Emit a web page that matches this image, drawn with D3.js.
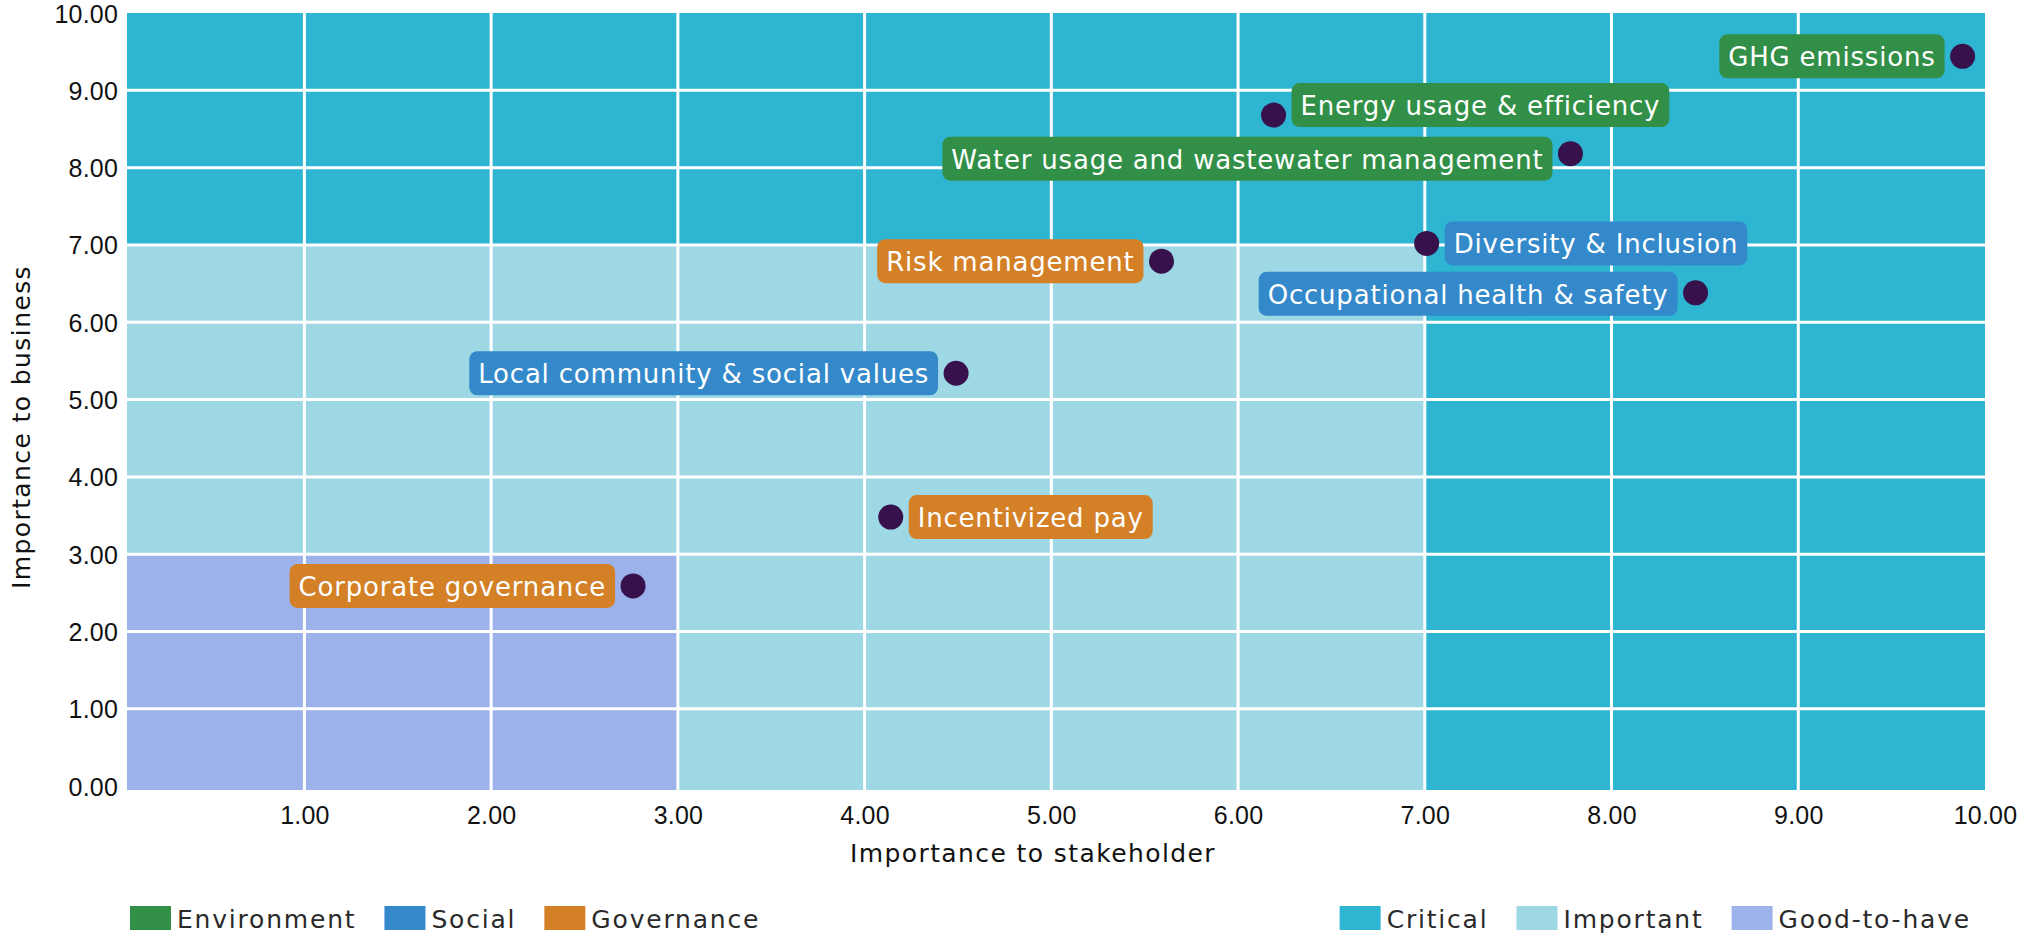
<!DOCTYPE html>
<html>
<head>
<meta charset="utf-8">
<script src="https://cdn.jsdelivr.net/npm/d3@7"></script>
<style>
  body { margin: 0; background: #fff; }
  svg { display: block; font-family: "DejaVu Sans", sans-serif; }
</style>
</head>
<body>
<svg id="chart" width="2036" height="934"></svg>
<script>
// topics on the materiality matrix
var topics = [
  "GHG emissions",
  "Energy usage & efficiency",
  "Water usage and wastewater management",
  "Diversity & Inclusion",
  "Risk management",
  "Occupational health & safety",
  "Local community & social values",
  "Incentivized pay",
  "Corporate governance"
];
var stakeholder = [9.88, 6.19, 7.78, 7.01, 5.59, 8.45, 4.49, 4.14, 2.76];
var business    = [9.44, 8.68, 8.18, 7.02, 6.79, 6.38, 5.34, 3.48, 2.59];
var pillar = ["Environment", "Environment", "Environment", "Social", "Governance",
              "Social", "Social", "Governance", "Governance"];

var pillars = ["Environment", "Social", "Governance"];
var zones = ["Critical", "Important", "Good-to-have"];
var tickValues = [1, 2, 3, 4, 5, 6, 7, 8, 9, 10];
var yTickValues = [0, 1, 2, 3, 4, 5, 6, 7, 8, 9, 10];

// label placement (which side of the dot, small vertical nudges)
var labelSide = ["left", "right", "left", "right", "left", "left", "left", "right", "left"];
var labelNudge = [0, -10, 5, 0, 0, 1, 0, 0, 0];

var pillarColor = d3.scaleOrdinal().domain(pillars).range(["#328f47", "#3489ca", "#d38027"]);
var zoneColor = d3.scaleOrdinal().domain(zones).range(["#2db5d1", "#9ed8e5", "#9db1ea"]);

function init() {
  var svg = d3.select("#chart");
  var left = 127, right = 1985, top = 13, bottom = 790;

  var x = d3.scaleLinear().domain([0.05, 10]).range([left, right]);
  var y = d3.scaleLinear().domain([-0.05, 10]).range([bottom, top]);

  // zones: critical everywhere first, then important, then good-to-have
  var zoneRects = [
    { zone: "Critical", x0: 0.05, x1: 10, y0: -0.05, y1: 10 },
    { zone: "Important", x0: 0.05, x1: 7, y0: -0.05, y1: 7 },
    { zone: "Good-to-have", x0: 0.05, x1: 3, y0: -0.05, y1: 3 }
  ];
  svg.append("g").selectAll("rect")
    .data(zoneRects)
    .join("rect")
    .attr("x", function (d) { return x(d.x0); })
    .attr("y", function (d) { return y(d.y1); })
    .attr("width", function (d) { return x(d.x1) - x(d.x0); })
    .attr("height", function (d) { return y(d.y0) - y(d.y1); })
    .attr("fill", function (d) { return zoneColor(d.zone); });

  // grid
  var grid = svg.append("g").attr("stroke", "#fff").attr("stroke-width", 3);
  grid.selectAll(".gx")
    .data(tickValues.slice(0, 9))
    .join("line")
    .attr("x1", function (d) { return x(d); })
    .attr("x2", function (d) { return x(d); })
    .attr("y1", top).attr("y2", bottom);
  grid.selectAll(".gy")
    .data(yTickValues.slice(1, 10))
    .join("line")
    .attr("y1", function (d) { return y(d); })
    .attr("y2", function (d) { return y(d); })
    .attr("x1", left).attr("x2", right);

  // axes
  var xAxis = svg.append("g")
    .attr("transform", "translate(0," + bottom + ")")
    .call(d3.axisBottom(x).tickValues(tickValues).tickFormat(d3.format(".2f")).tickSize(0).tickPadding(14));
  var yAxis = svg.append("g")
    .attr("transform", "translate(" + left + ",0)")
    .call(d3.axisLeft(y).tickValues(yTickValues).tickFormat(d3.format(".2f")).tickSize(0).tickPadding(9));
  [xAxis, yAxis].forEach(function (a) {
    a.select(".domain").remove();
    a.selectAll("text")
      .attr("fill", "#111")
      .style("font-size", "25px")
      .style("letter-spacing", "0.2px");
  });
  xAxis.selectAll("text").attr("dy", null).attr("y", 25).attr("dominant-baseline", "central");
  yAxis.selectAll("text").attr("dy", null).attr("dominant-baseline", "central");

  svg.append("text")
    .attr("x", 1033).attr("y", 853)
    .attr("text-anchor", "middle").attr("dominant-baseline", "central")
    .attr("fill", "#111").style("font-size", "25px").style("letter-spacing", "1.4px")
    .text("Importance to stakeholder");
  svg.append("text")
    .attr("transform", "translate(21,427) rotate(-90)")
    .attr("text-anchor", "middle").attr("dominant-baseline", "central")
    .attr("fill", "#111").style("font-size", "25px").style("letter-spacing", "1.4px")
    .text("Importance to business");

  // points and labels
  var idx = d3.range(topics.length);
  var labels = svg.append("g").selectAll("g")
    .data(idx)
    .join("g");
  labels.each(function (i) {
    var g = d3.select(this);
    var cx = x(stakeholder[i]), cy = y(business[i]) + labelNudge[i];
    var rect = g.append("rect").attr("rx", 8).attr("fill", pillarColor(pillar[i]));
    var t = g.append("text")
      .attr("fill", "#fff")
      .attr("dominant-baseline", "central")
      .style("font-size", "26px")
      .style("letter-spacing", "0.8px")
      .text(topics[i]);
    var w = t.node().getComputedTextLength() + 18;
    var bx = labelSide[i] === "left" ? cx - 18 - w : cx + 18;
    rect.attr("x", bx).attr("y", cy - 22).attr("width", w).attr("height", 44);
    t.attr("x", bx + 9).attr("y", cy + 1);
  });

  svg.append("g").selectAll("circle")
    .data(idx)
    .join("circle")
    .attr("cx", function (i) { return x(stakeholder[i]); })
    .attr("cy", function (i) { return y(business[i]); })
    .attr("r", 12.5)
    .attr("fill", "#36114b");

  // legends
  function legend(items, color, startX, alignRight) {
    var g = svg.append("g");
    var cursor = 0;
    items.forEach(function (name) {
      var item = g.append("g").attr("transform", "translate(" + cursor + ",0)");
      item.append("rect").attr("width", 41).attr("height", 24).attr("fill", color(name));
      var t = item.append("text")
        .attr("x", 47).attr("y", 13)
        .attr("dominant-baseline", "central")
        .attr("fill", "#2a2a2a")
        .style("font-size", "25px")
        .style("letter-spacing", "1.8px")
        .text(name);
      cursor += 47 + t.node().getComputedTextLength() + 28;
    });
    var total = cursor - 28;
    var gx = alignRight ? startX - total : startX;
    g.attr("transform", "translate(" + gx + ",906)");
  }
  legend(pillars, pillarColor, 130, false);
  legend(zones, zoneColor, 1971, true);
}

window.onload = init;
</script>
</body>
</html>
